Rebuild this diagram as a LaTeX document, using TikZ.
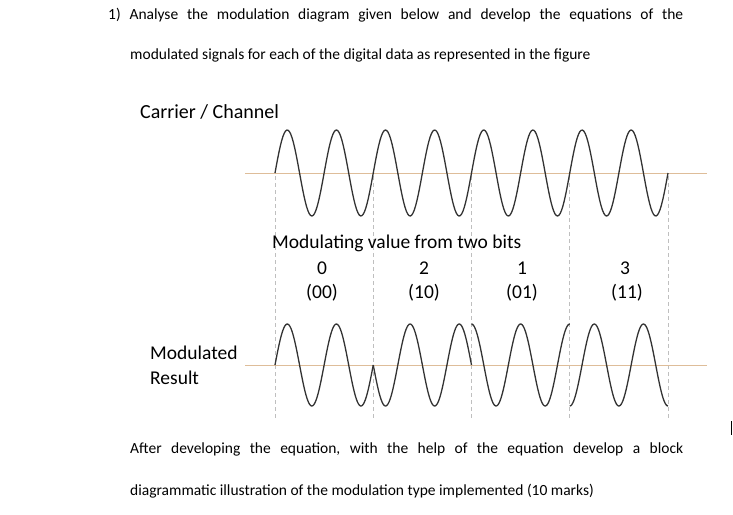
\documentclass[tikz,border=0pt]{standalone}
\usepackage{fontspec}
\setmainfont{Carlito}
\definecolor{axiscolor}{rgb}{0.870000, 0.740000, 0.600000}
\definecolor{wavecolor}{rgb}{0.200000, 0.200000, 0.200000}
\definecolor{gridcolor}{rgb}{0.750000, 0.750000, 0.750000}
\tikzset{
  wave/.style={draw=wavecolor, line width=1.3pt, line join=round},
  axisline/.style={draw=axiscolor, line width=0.8pt},
  guide/.style={draw=gridcolor, line width=0.8pt, dash pattern=on 4pt off 3pt},
  txt/.style={anchor=west, inner sep=0pt, font=\fontsize{15.5}{18}\selectfont},
  lbl/.style={anchor=west, inner sep=0pt, font=\fontsize{19.5}{22}\selectfont},
  val/.style={anchor=center, inner sep=0pt, font=\fontsize{19.5}{22}\selectfont}
}
\begin{document}
\begin{tikzpicture}[x=1pt,y=-1pt]
\useasboundingbox (0,0) rectangle (733,514);
% question text
\node[txt] (q1) at (108,15) {\parbox{575pt}{\fontsize{15.5}{18}\selectfont 1)\hfill Analyse\hfill the\hfill modulation\hfill diagram\hfill given\hfill below\hfill and\hfill develop\hfill the\hfill equations\hfill of\hfill the}};
\node[txt] (q2) at (130,55) {modulated signals for each of the digital data as represented in the figure};
% carrier
\node[lbl, font=\fontsize{20}{22}\selectfont] (carrier) at (140,112) {Carrier / Channel};
\draw[axisline] (245,173) -- (707,173);
\foreach \gx in {275,373.25,471.5,569.75,668}
  \draw[guide] (\gx,176) -- (\gx,420);
\draw[wave] plot[domain=0:393, samples=300] (275+\x,{173-43*sin(7.3282*\x)});
% modulating values
\node[lbl] (modval) at (272,243) {Modulating value from two bits};
\node[val] (v0) at (322,268) {0};
\node[val] (b0) at (322,293) {(00)};
\node[val] (v2) at (424,268) {2};
\node[val] (b2) at (424,293) {(10)};
\node[val] (v1) at (522,268) {1};
\node[val] (b1) at (522,293) {(01)};
\node[val] (v3) at (625,268) {3};
\node[val] (b3) at (627,293) {(11)};
% modulated result
\node[lbl] (mod1) at (150,353) {Modulated};
\node[lbl] (mod2) at (150,378) {Result};
\draw[axisline] (245,365) -- (707,365);
\foreach \sx/\ph in {275/0,373.25/180,471.5/90,569.75/270}
  \draw[wave] plot[domain=0:98.25, samples=100] (\sx+\x,{365-41*sin(7.3282*\x+\ph)});
% tail text
\node[txt] (t1) at (130,449) {\parbox{553pt}{\fontsize{15.5}{18}\selectfont After\hfill developing\hfill the\hfill equation,\hfill with\hfill the\hfill help\hfill of\hfill the\hfill equation\hfill develop\hfill a\hfill block}};
\node[txt] (t2) at (130,491) {diagrammatic illustration of the modulation type implemented (10 marks)};
\draw[line width=1pt] (731,421) -- (731,435);
\end{tikzpicture}
\end{document}
